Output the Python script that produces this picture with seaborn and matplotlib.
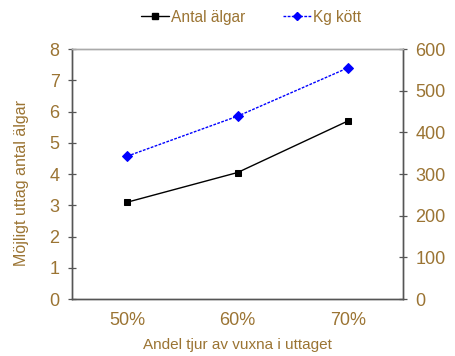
import matplotlib
matplotlib.use("Agg")
import matplotlib.pyplot as plt
from matplotlib.lines import Line2D
import seaborn as sns
import pandas as pd

# Data
categories = ["50%", "60%", "70%"]
antal_algar = [3.1, 4.05, 5.7]
kg_kott = [343, 439, 555]

left_ticks = [0, 1, 2, 3, 4, 5, 6, 7, 8]
right_ticks = [0, 100, 200, 300, 400, 500, 600]

TEXT = "#9B7433"
AXIS = "#555555"

sns.set_theme(style="white")
plt.rcParams["font.family"] = ["Liberation Sans", "DejaVu Sans"]

df = pd.DataFrame({"pos": range(len(categories)), "Antal älgar": antal_algar, "Kg kött": kg_kott})

fig = plt.figure(figsize=(4.56, 3.56), dpi=100)
ax = fig.add_axes([0.158, 0.160, 0.726, 0.702])
ax2 = ax.twinx()

sns.lineplot(data=df, x="pos", y="Antal älgar", ax=ax, color="black", lw=1.0,
             marker="s", markersize=5, markeredgecolor="black", legend=False)
sns.lineplot(data=df, x="pos", y="Kg kött", ax=ax2, color="#0000FF", lw=1.0,
             linestyle=(0, (2, 1)), marker="D", markersize=5,
             markeredgecolor="#0000FF", legend=False)

ax.set_xlim(-0.5, len(categories) - 0.5)
ax.set_ylim(0, 8)
ax2.set_ylim(0, 600)

# category labels centred, tick marks on the boundaries
ax.set_xticks(range(len(categories)))
ax.set_xticklabels(categories)
ax.set_xticks([i - 0.5 for i in range(len(categories) + 1)], minor=True)
ax.tick_params(axis="x", which="major", length=0, labelsize=13, labelcolor=TEXT, pad=9)
ax.tick_params(axis="x", which="minor", length=6, direction="inout", color=AXIS, width=0.9)

ax.set_yticks(left_ticks)
ax.tick_params(axis="y", which="major", length=6, direction="inout", color=AXIS,
               width=0.9, labelsize=13, labelcolor=TEXT, pad=6, left=True)
ax2.set_yticks(right_ticks)
ax2.tick_params(axis="y", which="major", length=6, direction="inout", color=AXIS,
                width=0.9, labelsize=13, labelcolor=TEXT, pad=6, right=True)

for a in (ax, ax2):
    for side in ("left", "right", "bottom"):
        a.spines[side].set_color(AXIS)
        a.spines[side].set_linewidth(1.0)
    a.spines["top"].set_color("#AAAAAA")
    a.spines["top"].set_linewidth(1.0)

ax.set_xlabel("Andel tjur av vuxna i uttaget", color=TEXT, fontsize=11, labelpad=7)
ax.set_ylabel("Möjligt uttag antal älgar", color=TEXT, fontsize=11.5, labelpad=9)
ax.yaxis.set_label_coords(-0.13, 0.464)
ax2.set_ylabel("Möjligt uttag kg kött", color=TEXT, fontsize=11.5, labelpad=12)

handles = [
    Line2D([], [], color="black", lw=1.0, marker="s", markersize=5),
    Line2D([], [], color="#0000FF", lw=1.0, linestyle=(0, (2, 1)), marker="D", markersize=4.5),
]
fig.legend(handles, ["Antal älgar", "Kg kött"], loc="center", bbox_to_anchor=(0.55, 0.952),
           ncol=2, frameon=False, fontsize=11.2, labelcolor=TEXT, handlelength=1.8,
           handletextpad=0.15, columnspacing=2.4)

fig.savefig("out.png", dpi=100)
